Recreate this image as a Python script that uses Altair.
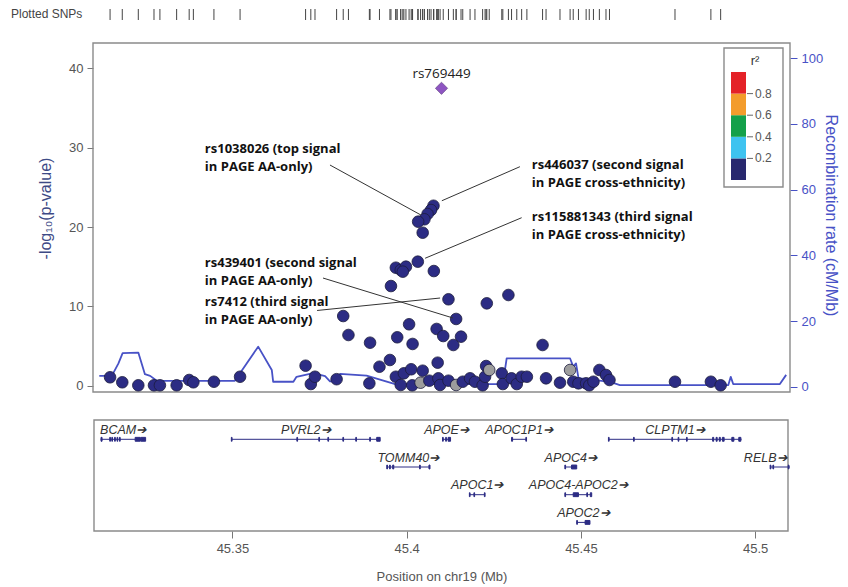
import altair as alt
import pandas as pd

# ---------------- values ----------------
X_MIN, X_MAX = 45.31, 45.51
x_ticks = [45.35, 45.40, 45.45, 45.50]
logp_ticks = [0, 10, 20, 30, 40]
recomb_ticks = [0, 20, 40, 60, 80, 100]

snp_pos = [45.3149, 45.3184, 45.3230, 45.3275, 45.3292, 45.3340, 45.3376, 45.3388, 45.3447, 45.3522,
           45.3710, 45.3725, 45.3737, 45.3799, 45.3818, 45.3833, 45.3893, 45.3895, 45.3922, 45.3952,
           45.3955, 45.3969, 45.3983, 45.3998, 45.3989, 45.3969, 45.3983, 45.3992, 45.3973, 45.4007,
           45.4013, 45.4016, 45.4017, 45.4032, 45.4046, 45.4040, 45.4065, 45.4078, 45.4086, 45.4089,
           45.4091, 45.4096, 45.4105, 45.4120, 45.4120, 45.4134, 45.4142, 45.4142, 45.4156, 45.4161,
           45.4182, 45.4196, 45.4218, 45.4225, 45.4228, 45.4230, 45.4237, 45.4273, 45.4276, 45.4292,
           45.4301, 45.4316, 45.4330, 45.4345, 45.4390, 45.4400, 45.4440, 45.4469, 45.4478, 45.4493,
           45.4515, 45.4524, 45.4536, 45.4553, 45.4572, 45.4582, 45.4770, 45.4873, 45.4901,
           45.4077, 45.4070, 45.4060, 45.4051, 45.4033, 45.4046]
snp_logp = [1.06, 0.43, 0.05, 0.05, 0.05, 0.05, 0.72, 0.43, 0.50, 1.13,
            2.52, 0.21, 1.13, 0.82, 8.78, 6.39, 0.30, 5.42, 2.39, 3.24,
            12.56, 14.87, 14.58, 15.00, 14.37, 1.13, 0.09, 1.56, 6.10, 7.74,
            2.07, 0.05, 5.26, 15.63, 1.89, 0.38, 0.63, 14.45, 7.15, 2.90,
            0.93, 0.09, 6.26, 10.89, 0.63, 5.13, 8.41, 0.09, 6.18, 0.50,
            0.93, 0.50, 0.05, 1.13, 2.48, 10.38, 1.98, 1.56, 0.21, 11.43,
            0.93, 0.21, 1.13, 1.13, 5.13, 0.93, 0.38, 1.98, 0.50, 0.30,
            0.30, 0.05, 0.50, 1.98, 1.35, 0.72, 0.50, 0.50, 0.05,
            22.68, 22.14, 21.64, 20.97, 20.67, 19.28]
snp_ld = ["low"] * len(snp_pos)
for i in (35, 47, 56, 67):
    snp_ld[i] = "na"

index_snp = ["rs769449"]
index_pos = [45.4100]
index_logp = [37.48]

rec_pos = [45.3118, 45.3154, 45.3173, 45.3185, 45.3230, 45.3249, 45.3264, 45.3283, 45.3507, 45.3574,
           45.3613, 45.3617, 45.3675, 45.3684, 45.3732, 45.3766, 45.3780, 45.3800, 45.3809, 45.3885,
           45.3967, 45.4276, 45.4287, 45.4469, 45.4478, 45.4486, 45.4493, 45.4584, 45.4612, 45.4923,
           45.4930, 45.4937, 45.5071, 45.5089]
rec_rate = [3.3, 3.3, 7.1, 10.2, 10.4, 3.8, 3.3, 1.8, 1.8, 12.2,
            5.1, 1.5, 1.5, 3.0, 4.1, 3.2, 1.6, 1.6, 3.9, 3.4,
            0.8, 0.8, 8.6, 8.6, 6.1, 7.1, 2.6, 1.5, 0.5, 0.5,
            3.0, 0.8, 0.8, 3.6]

ann_text = [["rs1038026 (top signal", "in PAGE AA-only)"],
            ["rs446037 (second signal", "in PAGE cross-ethnicity)"],
            ["rs115881343 (third signal", "in PAGE cross-ethnicity)"],
            ["rs439401 (second signal", "in PAGE AA-only)"],
            ["rs7412 (third signal", "in PAGE AA-only)"]]
ann_pos = [45.3421, 45.4359, 45.4359, 45.3421, 45.3421]
ann_logp = [29.83, 27.81, 21.26, 15.43, 10.59]
ann_from_pos = [45.3780, 45.4325, 45.4330, 45.3760, 45.3743]
ann_from_logp = [27.81, 27.60, 21.17, 13.57, 9.48]
ann_to_pos = [45.4041, 45.4101, 45.4053, 45.4133, 45.4096]
ann_to_logp = [21.51, 23.31, 16.06, 8.53, 11.05]

gene_names = ["BCAM", "PVRL2", "TOMM40", "APOE", "APOC1P1", "APOC1", "APOC4",
              "APOC4-APOC2", "APOC2", "CLPTM1", "RELB"]
gene_start = [45.3122, 45.3497, 45.3943, 45.4103, 45.4301, 45.4180, 45.4454,
              45.4454, 45.4488, 45.4579, 45.5043]
gene_end = [45.3251, 45.3924, 45.4067, 45.4126, 45.4344, 45.4225, 45.4488,
            45.4531, 45.4526, 45.4961, 45.5415]
gene_row = [1, 1, 2, 1, 1, 3, 2, 3, 4, 1, 2]
gene_exons = [
    [(45.3123, 45.3126), (45.3148, 45.3150), (45.3154, 45.3156), (45.3162, 45.3164),
     (45.3169, 45.3171), (45.3176, 45.3178), (45.3221, 45.3236), (45.3238, 45.3251)],
    [(45.3497, 45.3499), (45.3685, 45.3687), (45.3748, 45.3750), (45.3774, 45.3776),
     (45.3817, 45.3819), (45.3854, 45.3856), (45.3894, 45.3896), (45.3914, 45.3924)],
    [(45.3943, 45.3945), (45.3951, 45.3953), (45.3960, 45.3963), (45.4037, 45.4039),
     (45.4064, 45.4067)],
    [(45.4103, 45.4105), (45.4112, 45.4114), (45.4119, 45.4126)],
    [(45.4301, 45.4304), (45.4342, 45.4344)],
    [(45.4180, 45.4182), (45.4193, 45.4195), (45.4223, 45.4225)],
    [(45.4454, 45.4456), (45.4473, 45.4488)],
    [(45.4454, 45.4456), (45.4478, 45.4493), (45.4517, 45.4519), (45.4527, 45.4531)],
    [(45.4488, 45.4490), (45.4512, 45.4526)],
    [(45.4579, 45.4581), (45.4651, 45.4653), (45.4761, 45.4763), (45.4779, 45.4781),
     (45.4803, 45.4805), (45.4878, 45.4881), (45.4888, 45.4891), (45.4897, 45.4900),
     (45.4906, 45.4911), (45.4933, 45.4939), (45.4953, 45.4959)],
    [(45.5043, 45.5045), (45.5051, 45.5053), (45.5095, 45.5097)],
]

r2_lo = [0.0, 0.2, 0.4, 0.6, 0.8]
r2_hi = [0.2, 0.4, 0.6, 0.8, 1.0]
r2_colors = ["#28286e", "#3ec3f0", "#14a04a", "#f39c2c", "#e42228"]
r2_labels = [0.2, 0.4, 0.6, 0.8]

# ---------------- layout ----------------
W, H = 697, 523
PX_PER_MB = W / (X_MAX - X_MIN)
NAVY = "#2c2c84"
BLUE = "#4852c6"
AXGRAY = "#555555"
FONT = "Liberation Sans"

LOGP_DOM = [(377.7 - H) / 7.935, 377.7 / 7.935]
REC_DOM = [(378.7 - H) / 3.284, 378.7 / 3.284]
ROW0, ROWH = 431.3, 27.7
GENE_DOM = [1 - ROW0 / ROWH, 1 + (H - ROW0) / ROWH]
LEG0, LEGH = 172.0, 108.0
LEG_DOM = [(LEG0 - H) / LEGH, LEG0 / LEGH]

XS = alt.Scale(domain=[X_MIN, X_MAX], nice=False, zero=False)
XAXIS = alt.Axis(values=x_ticks, format="~g", tickSize=7, tickColor="#777", domain=False,
                 grid=False, labelFont=FONT, labelFontSize=13, labelColor=AXGRAY,
                 labelPadding=4, title="Position on chr19 (Mb)", titleFont=FONT,
                 titleFontSize=13, titleFontWeight="normal", titleColor=AXGRAY, titlePadding=15)


def X(field):
    return alt.X(field, type="quantitative", scale=XS, axis=XAXIS)


def ys(dom, reverse=False):
    if reverse:
        return alt.Scale(domain=dom, nice=False, zero=False, reverse=True)
    return alt.Scale(domain=dom, nice=False, zero=False)


one = pd.DataFrame({"k": [0]})

snps = pd.DataFrame({"pos": snp_pos, "logp": snp_logp, "ld": snp_ld})
idx = pd.DataFrame({"pos": index_pos, "logp": index_logp, "name": index_snp})
rec = pd.DataFrame({"pos": rec_pos, "rate": rec_rate})

ann_rows = []
for lines, p, lp in zip(ann_text, ann_pos, ann_logp):
    for j, t in enumerate(lines):
        ann_rows.append({"pos": p, "logp": lp - j * 18.0 / 7.935, "text": t})
ann_t = pd.DataFrame(ann_rows)
ann_l = pd.DataFrame({"pos": ann_from_pos, "end": ann_to_pos,
                      "logp": ann_from_logp, "logp2": ann_to_logp})

genes = pd.DataFrame({"name": gene_names, "pos": gene_start,
                      "end": [min(e, X_MAX) for e in gene_end], "row": gene_row})
lab_pos = []
for s, e, n in zip(gene_start, gene_end, gene_names):
    mid = (s + min(e, X_MAX)) / 2
    half = (len(n) * 7.4 + 16) / 2 + 2
    mid = min(mid, X_MAX - half / PX_PER_MB)
    lab_pos.append(mid)
genes["lpos"] = lab_pos
genes["lrow"] = [r - 0.34 for r in gene_row]
genes["label"] = [n + "\u2794" for n in gene_names]

ex_rows = []
for n, r, exs in zip(gene_names, gene_row, gene_exons):
    for a, b in exs:
        ex_rows.append({"pos": a, "end": b, "r1": r - 0.07, "r2": r + 0.07})
exons = pd.DataFrame(ex_rows)

leg = pd.DataFrame({"lo": r2_lo, "hi": r2_hi, "c": r2_colors})
leg_lab = pd.DataFrame({"v": r2_labels, "t": [str(v) for v in r2_labels]})


def box(x1, y1, x2, y2):
    return alt.Chart(one).mark_rect(fillOpacity=0, stroke="#8a8a8a", strokeWidth=1.4).encode(
        x=alt.value(x1), x2=alt.value(x2), y=alt.value(y1), y2=alt.value(y2))


main_box = box(0, 35, W, 384)
gene_box = box(1, 412, W - 2, H)

recomb = alt.Chart(rec).mark_line(color=BLUE, strokeWidth=1.8, strokeJoin="round").encode(
    x=X("pos"),
    y=alt.Y("rate", type="quantitative", scale=ys(REC_DOM),
            axis=alt.Axis(orient="right", values=recomb_ticks, domain=False, grid=False,
                          tickSize=7, tickColor=BLUE, labelColor=BLUE, labelFont=FONT,
                          labelFontSize=13, labelPadding=4,
                          title="Recombination rate (cM/Mb)", titleColor=BLUE, titleFont=FONT,
                          titleFontSize=16, titleFontWeight="normal", titleAngle=90,
                          titleX=40, titleY=207, titleAlign="center", titleBaseline="middle")),
)

points = alt.Chart(snps).mark_point(filled=True, shape="circle", size=135, opacity=1,
                                    stroke="#1c1c3c", strokeWidth=0.8).encode(
    x=X("pos"),
    y=alt.Y("logp", type="quantitative", scale=ys(LOGP_DOM),
            axis=alt.Axis(orient="left", values=logp_ticks, domain=False, grid=False,
                          tickSize=6, tickColor="#777", labelColor=AXGRAY, labelFont=FONT,
                          labelFontSize=13, labelPadding=4,
                          title="-log\u2081\u2080(p-value)", titleColor="#3d4a86", titleFont=FONT,
                          titleFontSize=16, titleFontWeight="normal", titleAngle=-90,
                          titleX=-48, titleY=200, titleAlign="center", titleBaseline="middle")),
    color=alt.Color("ld", scale=alt.Scale(domain=["low", "na"], range=[NAVY, "#9d9d9d"]),
                    legend=None),
)

diamond = alt.Chart(idx).mark_point(filled=True, shape="diamond", size=150, opacity=1,
                                     color="#8e55c2", stroke="#5a3a7a", strokeWidth=0.6).encode(
    x=X("pos"), y=alt.Y("logp", type="quantitative", scale=ys(LOGP_DOM), axis=None))
idx_lab = alt.Chart(idx).mark_text(font="Open Sans", fontSize=13.5, color="#222",
                                    baseline="middle", dy=-14).encode(
    x=X("pos"), y=alt.Y("logp", type="quantitative", scale=ys(LOGP_DOM), axis=None),
    text="name")

ann_lines = alt.Chart(ann_l).mark_rule(color="#333", strokeWidth=1).encode(
    x=X("pos"), x2="end",
    y=alt.Y("logp", type="quantitative", scale=ys(LOGP_DOM), axis=None), y2="logp2")
ann_texts = alt.Chart(ann_t).mark_text(font="Open Sans", fontSize=13, fontWeight="bold",
                                        color="#111", align="left", baseline="middle").encode(
    x=X("pos"), y=alt.Y("logp", type="quantitative", scale=ys(LOGP_DOM), axis=None),
    text="text")

rug = alt.Chart(snps).mark_rule(color="#444", strokeWidth=1).encode(
    x=X("pos"), y=alt.value(1), y2=alt.value(12))
rug_title = alt.Chart(one).mark_text(font=FONT, fontSize=12, color="#444", align="left",
                                      baseline="middle").encode(
    x=alt.value(-82), y=alt.value(6), text=alt.value("Plotted SNPs"))

GS = ys(GENE_DOM, reverse=True)
gene_lines = alt.Chart(genes).mark_rule(color=NAVY, strokeWidth=1, clip=True).encode(
    x=X("pos"), x2="end", y=alt.Y("row", type="quantitative", scale=GS, axis=None))
gene_exon = alt.Chart(exons).mark_rect(color=NAVY, stroke=NAVY, strokeWidth=1, clip=True).encode(
    x=X("pos"), x2="end", y=alt.Y("r1", type="quantitative", scale=GS, axis=None), y2="r2")
gene_lab = alt.Chart(genes).mark_text(font=FONT, fontSize=12.5, fontStyle="italic", color="#333",
                                       baseline="middle").encode(
    x=X("lpos"), y=alt.Y("lrow", type="quantitative", scale=GS, axis=None), text="label")

LS = ys(LEG_DOM)
leg_box = box(631, 40, 690, 179)
leg_rect = alt.Chart(leg).mark_rect(strokeWidth=0).encode(
    x=alt.value(638), x2=alt.value(653),
    y=alt.Y("lo", type="quantitative", scale=LS, axis=None), y2="hi",
    color=alt.Color("c", scale=None))
leg_tick = alt.Chart(leg_lab).mark_rule(color="#666", strokeWidth=1).encode(
    x=alt.value(654), x2=alt.value(660), y=alt.Y("v", type="quantitative", scale=LS, axis=None))
leg_text = alt.Chart(leg_lab).mark_text(font=FONT, fontSize=12, color=AXGRAY, align="left",
                                         baseline="middle").encode(
    x=alt.value(662), y=alt.Y("v", type="quantitative", scale=LS, axis=None), text="t")
leg_title = alt.Chart(one).mark_text(font=FONT, fontSize=13, color="#333", align="center",
                                      baseline="middle").encode(
    x=alt.value(662), y=alt.value(53), text=alt.value("r\u00b2"))

chart = alt.layer(
    main_box, gene_box, recomb, points, diamond, idx_lab, ann_lines, ann_texts,
    rug, rug_title, gene_lines, gene_exon, gene_lab,
    leg_box, leg_rect, leg_tick, leg_text, leg_title,
).resolve_scale(y="independent").properties(
    width=W, height=H,
    autosize=alt.AutoSizeParams(type="none"),
    padding={"left": 85, "top": 0, "right": 50, "bottom": 58},
    background="white",
).configure_view(strokeWidth=0)

chart.save("out.html", embed_options={"renderer": "svg", "actions": False})
